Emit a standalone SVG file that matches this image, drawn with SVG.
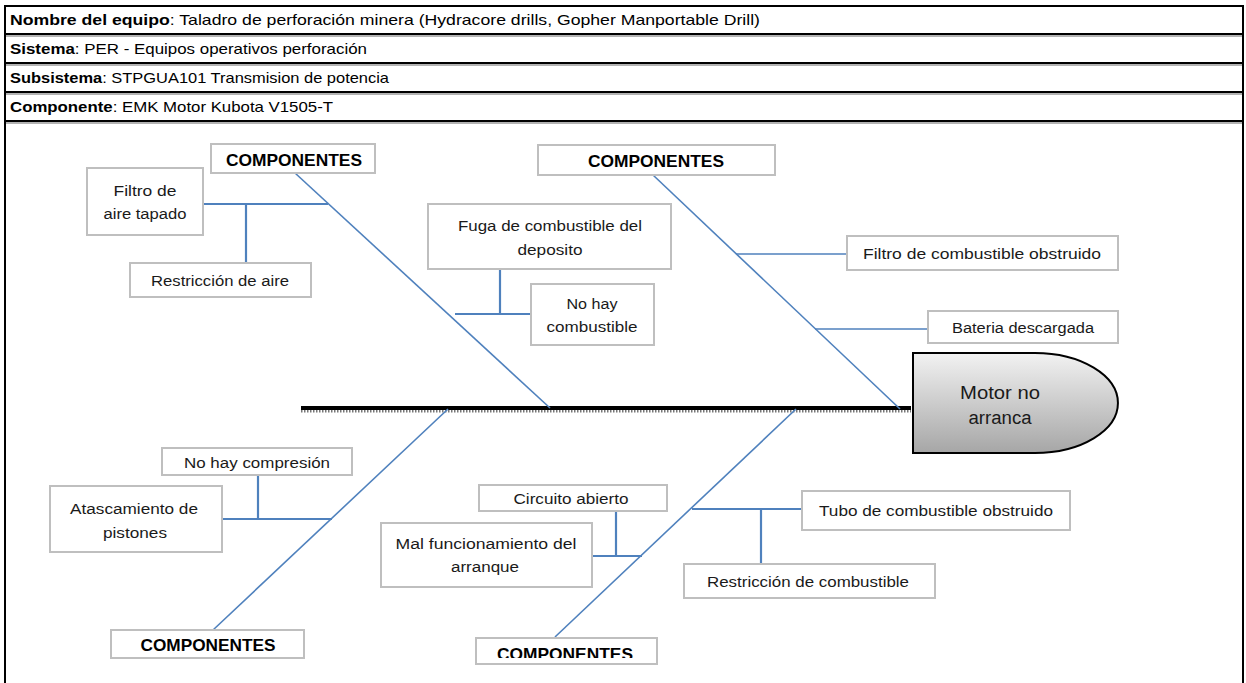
<svg xmlns="http://www.w3.org/2000/svg" width="1246" height="683" viewBox="0 0 1246 683">
<style>
.hdr{font-family:"Liberation Sans",Arial,sans-serif;font-size:15px;fill:#000}
.hdr tspan.b{font-weight:bold}
.box{fill:#fff;stroke:#bfbfbf;stroke-width:2}
.t{font-family:"Liberation Sans",Arial,sans-serif;font-size:15.5px;fill:#1a1a1a;text-anchor:middle}
.c{font-family:"Liberation Sans",Arial,sans-serif;font-size:17px;font-weight:bold;fill:#000;text-anchor:middle}
.bone{stroke:#4f81bd;stroke-width:1.6;fill:none}
.br{stroke:#4f81bd;stroke-width:2.2;fill:none}
.grid{stroke:#000;stroke-width:2;fill:none}
.sh{stroke:#9a9a9a;stroke-width:1.5;fill:none}
</style>
<defs>
<linearGradient id="hg" x1="0" y1="0" x2="0" y2="1">
<stop offset="0" stop-color="#f2f2f2"/>
<stop offset="1" stop-color="#a6a6a6"/>
</linearGradient>
<clipPath id="clipC"><rect x="476" y="638" width="181" height="20"/></clipPath>
</defs>
<rect width="1246" height="683" fill="#fff"/>
<g id="header">
<line class="sh" x1="5" y1="36" x2="1244" y2="36"/>
<line class="sh" x1="5" y1="65" x2="1244" y2="65"/>
<line class="sh" x1="5" y1="94" x2="1244" y2="94"/>
<line class="sh" x1="5" y1="123" x2="1244" y2="123"/>
<line class="grid" x1="5" y1="6" x2="1244" y2="6"/>
<line class="grid" x1="5" y1="34" x2="1244" y2="34"/>
<line class="grid" x1="5" y1="63" x2="1244" y2="63"/>
<line class="grid" x1="5" y1="92" x2="1244" y2="92"/>
<line class="grid" x1="5" y1="121" x2="1244" y2="121"/>
<line class="grid" x1="5" y1="5" x2="5" y2="683"/>
<line class="grid" x1="1243" y1="5" x2="1243" y2="683"/>
<text class="hdr" x="10" y="25" textLength="750" lengthAdjust="spacingAndGlyphs"><tspan class="b">Nombre del equipo</tspan>: Taladro de perforación minera (Hydracore drills, Gopher Manportable Drill)</text>
<text class="hdr" x="10" y="54" textLength="357" lengthAdjust="spacingAndGlyphs"><tspan class="b">Sistema</tspan>: PER - Equipos operativos perforación</text>
<text class="hdr" x="10" y="83" textLength="379" lengthAdjust="spacingAndGlyphs"><tspan class="b">Subsistema</tspan>: STPGUA101 Transmision de potencia</text>
<text class="hdr" x="10" y="112" textLength="323" lengthAdjust="spacingAndGlyphs"><tspan class="b">Componente</tspan>: EMK Motor Kubota V1505-T</text>
</g>
<g id="connectors">
<line x1="301" y1="411" x2="911" y2="411" stroke="#777" stroke-width="3" stroke-dasharray="1.5 1.5"/>
<line x1="301" y1="408" x2="911" y2="408" stroke="#000" stroke-width="4"/>
<line class="bone" x1="295" y1="173" x2="550" y2="408"/>
<line class="bone" x1="653" y1="175" x2="900" y2="409"/>
<line class="bone" x1="213" y1="630" x2="448" y2="409"/>
<line class="bone" x1="555" y1="637" x2="796" y2="409"/>
<polyline class="br" points="203,204 328,204"/>
<polyline class="br" points="246,204 246,262"/>
<polyline class="br" points="455,314 530,314"/>
<polyline class="br" points="500,269 500,314"/>
<polyline class="bone" points="736,254 847,254"/>
<polyline class="bone" points="815,329 928,329"/>
<polyline class="br" points="222,519 332,519"/>
<polyline class="br" points="258,475 258,519"/>
<polyline class="br" points="592,556 642,556"/>
<polyline class="br" points="616,511 616,556"/>
<polyline class="br" points="692,509 802,509"/>
<polyline class="br" points="761,509 761,564"/>
</g>
<g id="head">
<path d="M913,353 H1035 A83,50 0 0 1 1035,453 H913 Z" fill="url(#hg)" stroke="#000" stroke-width="2"/>
<text class="t" x="1000" y="399" style="font-size:18px" textLength="80" lengthAdjust="spacingAndGlyphs">Motor no</text>
<text class="t" x="1000" y="424" style="font-size:18px" textLength="63" lengthAdjust="spacingAndGlyphs">arranca</text>
</g>
<g id="comp-tl"><rect class="box" x="211" y="144" width="164" height="29"/><text class="c" x="294" y="166" textLength="136" lengthAdjust="spacingAndGlyphs">COMPONENTES</text></g>
<g id="comp-tr"><rect class="box" x="538" y="145" width="237" height="30"/><text class="c" x="656" y="167" textLength="136" lengthAdjust="spacingAndGlyphs">COMPONENTES</text></g>
<g id="comp-bl"><rect class="box" x="111" y="630" width="193" height="28"/><text class="c" x="208" y="651" textLength="135" lengthAdjust="spacingAndGlyphs">COMPONENTES</text></g>
<g id="comp-bc"><rect class="box" x="476" y="638" width="181" height="26"/><text class="c" x="565" y="660" clip-path="url(#clipC)" textLength="136" lengthAdjust="spacingAndGlyphs">COMPONENTES</text></g>
<g id="n-filtro-aire"><rect class="box" x="87" y="168" width="116" height="67"/><text class="t" x="145" y="196" textLength="63" lengthAdjust="spacingAndGlyphs">Filtro de</text><text class="t" x="145" y="219" textLength="83" lengthAdjust="spacingAndGlyphs">aire tapado</text></g>
<g id="n-restr-aire"><rect class="box" x="130" y="263" width="181" height="34"/><text class="t" x="220" y="286" textLength="138" lengthAdjust="spacingAndGlyphs">Restricción de aire</text></g>
<g id="n-fuga"><rect class="box" x="428" y="204" width="243" height="65"/><text class="t" x="550" y="231" textLength="184" lengthAdjust="spacingAndGlyphs">Fuga de combustible del</text><text class="t" x="550" y="255" textLength="65" lengthAdjust="spacingAndGlyphs">deposito</text></g>
<g id="n-nohaycomb"><rect class="box" x="531" y="284" width="123" height="61"/><text class="t" x="592" y="309" textLength="51" lengthAdjust="spacingAndGlyphs">No hay</text><text class="t" x="592" y="332" textLength="91" lengthAdjust="spacingAndGlyphs">combustible</text></g>
<g id="n-filtro-comb"><rect class="box" x="847" y="236" width="271" height="34"/><text class="t" x="982" y="259" textLength="238" lengthAdjust="spacingAndGlyphs">Filtro de combustible obstruido</text></g>
<g id="n-bateria"><rect class="box" x="928" y="311" width="190" height="32"/><text class="t" x="1023" y="333" textLength="142" lengthAdjust="spacingAndGlyphs">Bateria descargada</text></g>
<g id="n-compresion"><rect class="box" x="162" y="448" width="190" height="27"/><text class="t" x="257" y="468" textLength="146" lengthAdjust="spacingAndGlyphs">No hay compresión</text></g>
<g id="n-atasc"><rect class="box" x="50" y="486" width="172" height="66"/><text class="t" x="134" y="514" textLength="128" lengthAdjust="spacingAndGlyphs">Atascamiento de</text><text class="t" x="135" y="538" textLength="64" lengthAdjust="spacingAndGlyphs">pistones</text></g>
<g id="n-circuito"><rect class="box" x="479" y="485" width="188" height="26"/><text class="t" x="571" y="504" textLength="115" lengthAdjust="spacingAndGlyphs">Circuito abierto</text></g>
<g id="n-mal"><rect class="box" x="381" y="523" width="211" height="64"/><text class="t" x="486" y="549" textLength="181" lengthAdjust="spacingAndGlyphs">Mal funcionamiento del</text><text class="t" x="485" y="572" textLength="68" lengthAdjust="spacingAndGlyphs">arranque</text></g>
<g id="n-tubo"><rect class="box" x="802" y="491" width="268" height="39"/><text class="t" x="936" y="516" textLength="234" lengthAdjust="spacingAndGlyphs">Tubo de combustible obstruido</text></g>
<g id="n-restr-comb"><rect class="box" x="684" y="564" width="251" height="34"/><text class="t" x="808" y="587" textLength="202" lengthAdjust="spacingAndGlyphs">Restricción de combustible</text></g>
</svg>
